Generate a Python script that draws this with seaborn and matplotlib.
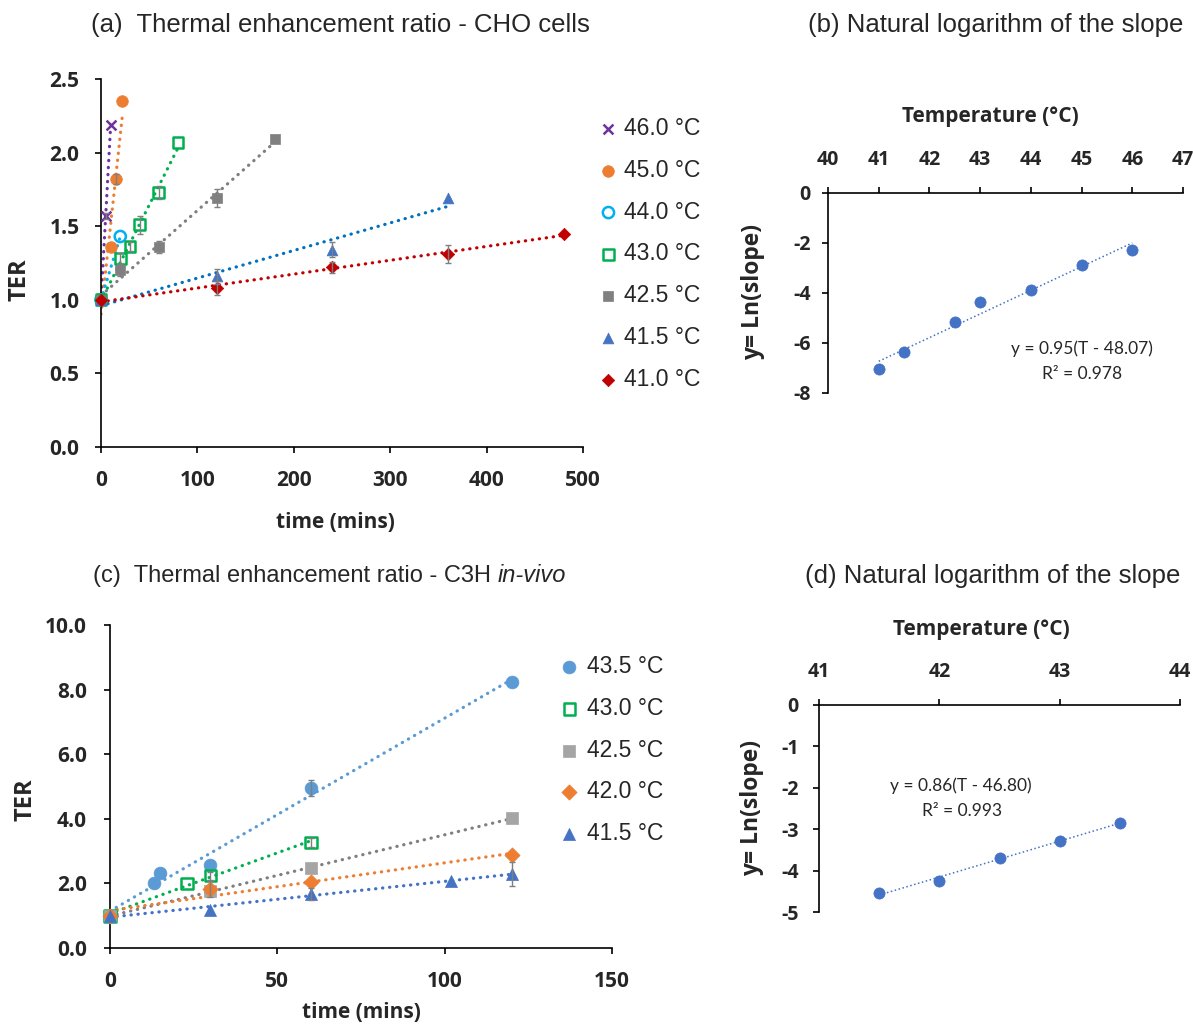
import numpy as np
import pandas as pd
import seaborn as sns
import matplotlib.pyplot as plt

W, H = 1193, 1027

# ---- (a) CHO cells: TER vs heating time ----
cho_labels = ["46.0 °C", "45.0 °C", "44.0 °C", "43.0 °C", "42.5 °C", "41.5 °C", "41.0 °C"]
cho_time = [
    [0, 5, 10],
    [0, 10, 16, 22],
    [0, 20],
    [0, 20, 30, 40, 60, 80],
    [0, 20, 60, 120, 180],
    [0, 120, 240, 360],
    [0, 120, 240, 360, 480],
]
cho_ter = [
    [1.0, 1.57, 2.19],
    [1.0, 1.36, 1.82, 2.35],
    [1.0, 1.43],
    [1.0, 1.28, 1.36, 1.51, 1.73, 2.07],
    [1.0, 1.20, 1.36, 1.69, 2.09],
    [1.0, 1.16, 1.34, 1.69],
    [1.0, 1.08, 1.22, 1.31, 1.45],
]
cho_err = [
    [0, 0.02, 0],
    [0, 0, 0.035, 0],
    [0, 0],
    [0, 0.04, 0.03, 0.06, 0.045, 0],
    [0, 0.04, 0.04, 0.06, 0],
    [0, 0.05, 0.05, 0],
    [0, 0.05, 0.04, 0.06, 0],
]

# ---- (c) C3H in-vivo ----
c3h_labels = ["43.5 °C", "43.0 °C", "42.5 °C", "42.0 °C", "41.5 °C"]
c3h_time = [
    [0, 13, 15, 30, 60, 120],
    [0, 23, 30, 60],
    [0, 30, 60, 120],
    [0, 30, 60, 120],
    [0, 30, 60, 102, 120],
]
c3h_ter = [
    [1.0, 2.0, 2.32, 2.56, 4.95, 8.25],
    [1.0, 2.0, 2.24, 3.27],
    [1.0, 1.75, 2.47, 4.02],
    [1.0, 1.82, 2.04, 2.88],
    [1.0, 1.19, 1.68, 2.06, 2.30],
]
c3h_err = [
    [0, 0, 0, 0, 0.25, 0],
    [0, 0, 0.12, 0.15],
    [0, 0, 0, 0],
    [0, 0.25, 0, 0],
    [0, 0, 0.19, 0, 0.37],
]

# ---- (b), (d) ln(slope) vs temperature ----
temp_b = [41, 41.5, 42.5, 43, 44, 45, 46]
lnslope_b = [-7.03, -6.37, -5.17, -4.37, -3.87, -2.89, -2.27]
temp_d = [41.5, 42, 42.5, 43, 43.5]
lnslope_d = [-4.53, -4.25, -3.70, -3.29, -2.84]

# styles
cho_colors = ["#7030A0", "#ED7D31", "#00B0F0", "#00B050", "#808080", "#4472C4", "#C00000"]
cho_line_colors = ["#7030A0", "#ED7D31", "#00B0F0", "#00B050", "#7F7F7F", "#0070C0", "#C00000"]
cho_markers = ["x", "o", "o", "s", "s", "^", "D"]
cho_open = [False, False, True, True, False, False, False]
cho_sizes = [50, 70, 65, 60, 50, 60, 40]

c3h_colors = ["#5B9BD5", "#00B050", "#A5A5A5", "#ED7D31", "#4472C4"]
c3h_line_colors = ["#5B9BD5", "#00B050", "#7F7F7F", "#ED7D31", "#4472C4"]
c3h_markers = ["o", "s", "s", "D", "^"]
c3h_open = [False, True, False, False, False]
c3h_sizes = [85, 70, 65, 60, 75]

sns.set_style("white")
plt.rcParams["font.family"] = ["Open Sans", "DejaVu Sans"]
plt.rcParams["font.weight"] = "bold"
plt.rcParams["axes.unicode_minus"] = False

fig = plt.figure(figsize=(W / 100, H / 100), dpi=100)


def place(l, r, t, b):
    return fig.add_axes([l / W, 1 - b / H, (r - l) / W, (b - t) / H])


def ftext(x, y, s, **kw):
    kw.setdefault("ha", "center")
    return fig.text(x / W, 1 - y / H, s, va="center", **kw)


def put_labels(ax, xl, xpos, yl, ypos, xsize, ysize):
    ax.set_xlabel(xl, fontsize=xsize, fontweight="bold")
    ax.set_ylabel(yl, fontsize=ysize, fontweight="bold")
    ax.xaxis.label.set_va("center")
    ax.yaxis.label.set_va("center")
    ax.xaxis.set_label_coords(xpos[0] / W, 1 - xpos[1] / H, transform=fig.transFigure)
    ax.yaxis.set_label_coords(ypos[0] / W, 1 - ypos[1] / H, transform=fig.transFigure)


def style_axes(ax, top=False):
    for side in ["left", "right", "top", "bottom"]:
        ax.spines[side].set_visible(False)
    ax.spines["left"].set_visible(True)
    ax.spines["top" if top else "bottom"].set_visible(True)
    for side in ["left", "top", "bottom"]:
        ax.spines[side].set_color("black")
        ax.spines[side].set_linewidth(1.2)
    if top:
        ax.xaxis.tick_top()
        ax.xaxis.set_label_position("top")
    ax.tick_params(direction="out", length=4.5, width=1.2, color="black",
                   left=True, bottom=not top, top=top)


def ter_panel(ax, times, ters, errs, labels, colors, lcolors, markers, opens, sizes):
    for t, y, e, lab, c, lc, m, o, s in zip(times, ters, errs, labels, colors,
                                           lcolors, markers, opens, sizes):
        df = pd.DataFrame({"time": t, "TER": y, "err": e})
        sns.regplot(data=df, x="time", y="TER", ax=ax, scatter=False, ci=None,
                    truncate=True, color=lc,
                    line_kws=dict(lw=2.3, ls=(0, (0.1, 2.1)), dash_capstyle="round",
                                  zorder=2))
        eb = df[df.err > 0]
        if len(eb):
            ax.errorbar(eb.time, eb.TER, yerr=eb.err, fmt="none", ecolor="#7F7F7F",
                        elinewidth=1, capsize=2.2, capthick=1, zorder=5)
        if o:
            sns.scatterplot(data=df, x="time", y="TER", ax=ax, marker=m, s=s,
                            facecolor="none", edgecolor=c, linewidth=1.8,
                            label=lab, zorder=4, clip_on=False)
        elif m == "x":
            sns.scatterplot(data=df, x="time", y="TER", ax=ax, marker=m, s=s,
                            color=c, linewidth=1.8, label=lab, zorder=4, clip_on=False)
        else:
            sns.scatterplot(data=df, x="time", y="TER", ax=ax, marker=m, s=s,
                            color=c, edgecolor=c, linewidth=0.5, label=lab,
                            zorder=4, clip_on=False)


def ln_panel(ax, temp, lns):
    df = pd.DataFrame({"T": temp, "ln": lns})
    sns.regplot(data=df, x="T", y="ln", ax=ax, scatter=False, ci=None, truncate=True,
                color="#4472C4", line_kws=dict(lw=1.1, ls=":", zorder=2))
    sns.scatterplot(data=df, x="T", y="ln", ax=ax, s=65, color="#4472C4",
                    edgecolor="#4472C4", linewidth=0.5, zorder=4, clip_on=False)


legend_kw = dict(loc="upper left", bbox_transform=fig.transFigure, frameon=False,
                 borderpad=0, borderaxespad=0, handlelength=1.0, labelspacing=0.82,
                 prop={"family": "Liberation Sans", "size": 16.5, "weight": "normal"})

# ---------- (a) ----------
ax_a = place(101, 583, 79, 447)
ter_panel(ax_a, cho_time, cho_ter, cho_err, cho_labels, cho_colors, cho_line_colors,
          cho_markers, cho_open, cho_sizes)
style_axes(ax_a)
ax_a.set_xlim(0, 500)
ax_a.set_ylim(0, 2.5)
ax_a.set_xticks(np.arange(0, 501, 100))
ax_a.set_yticks(np.arange(0, 2.51, 0.5))
ax_a.set_yticklabels([f"{v:.1f}" for v in np.arange(0, 2.51, 0.5)])
ax_a.tick_params(axis="x", labelsize=15, pad=12)
ax_a.tick_params(axis="y", labelsize=15, pad=11)
put_labels(ax_a, "time (mins)", (335, 522), "TER", (20, 280), 15, 17)
ax_a.legend(bbox_to_anchor=(597 / W, 1 - 117 / H), handletextpad=0.2, **legend_kw)

# ---------- (c) ----------
ax_c = place(110, 612, 625, 948)
ter_panel(ax_c, c3h_time, c3h_ter, c3h_err, c3h_labels, c3h_colors, c3h_line_colors,
          c3h_markers, c3h_open, c3h_sizes)
style_axes(ax_c)
ax_c.set_xlim(0, 150)
ax_c.set_ylim(0, 10)
ax_c.set_xticks([0, 50, 100, 150])
ax_c.set_yticks(np.arange(0, 10.1, 2))
ax_c.set_yticklabels([f"{v:.1f}" for v in np.arange(0, 10.1, 2)])
ax_c.tick_params(axis="x", labelsize=15, pad=12)
ax_c.tick_params(axis="y", labelsize=15, pad=12)
put_labels(ax_c, "time (mins)", (361, 1013), "TER", (26, 800), 15, 17)
ax_c.legend(bbox_to_anchor=(558 / W, 1 - 655 / H), handletextpad=0.25, **legend_kw)

# ---------- (b) ----------
ax_b = place(828, 1183, 193, 393)
ln_panel(ax_b, temp_b, lnslope_b)
style_axes(ax_b, top=True)
ax_b.set_xlim(40, 47)
ax_b.set_ylim(-8, 0)
ax_b.set_xticks(range(40, 48))
ax_b.set_yticks(range(-8, 1, 2))
ax_b.tick_params(axis="x", labelsize=14, pad=12)
ax_b.tick_params(axis="y", labelsize=14, pad=8)
put_labels(ax_b, "Temperature (°C)", (990, 117), "y= Ln(slope)", (753, 292), 15, 16.5)
ftext(1082, 349, "y = 0.95(T - 48.07)", family="Lato", fontsize=12.5, fontweight="normal")
ftext(1082, 374, "R² = 0.978", family="Lato", fontsize=12.5, fontweight="normal")

# ---------- (d) ----------
ax_d = place(819, 1180, 705, 912)
ln_panel(ax_d, temp_d, lnslope_d)
style_axes(ax_d, top=True)
ax_d.set_xlim(41, 44)
ax_d.set_ylim(-5, 0)
ax_d.set_xticks(range(41, 45))
ax_d.set_yticks(range(-5, 1))
ax_d.tick_params(axis="x", labelsize=14, pad=12)
ax_d.tick_params(axis="y", labelsize=14, pad=10)
put_labels(ax_d, "Temperature (°C)", (981, 629), "y= Ln(slope)", (752, 808), 15, 16.5)
ftext(961, 786, "y = 0.86(T - 46.80)", family="Lato", fontsize=12.5, fontweight="normal")
ftext(962, 811, "R² = 0.993", family="Lato", fontsize=12.5, fontweight="normal")

# titles
tkw = dict(family="Liberation Sans", fontsize=18.5, fontweight="normal")
ftext(340, 25, "(a)  Thermal enhancement ratio - CHO cells", **tkw)
ftext(996, 25, "(b) Natural logarithm of the slope", **tkw)
ftext(993, 576, "(d) Natural logarithm of the slope", **tkw)
# (c) title: upright part then italic "in-vivo"
ckw = dict(family="Liberation Sans", fontsize=17, fontweight="normal")
t_c = ftext(93, 576, "(c)  Thermal enhancement ratio - C3H ", ha="left", **ckw)
fig.canvas.draw()
bb = t_c.get_window_extent()
fig.text(bb.x1 / fig.bbox.width, 1 - 576 / H, "in-vivo", ha="left", va="center",
         style="italic", **ckw)

plt.savefig("out.png", dpi=100, facecolor="white")
